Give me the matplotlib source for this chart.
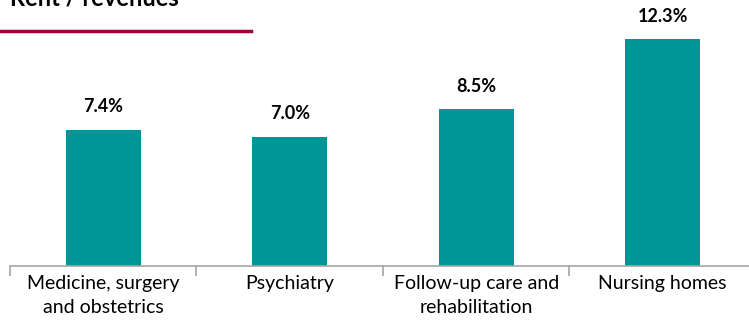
import matplotlib.pyplot as plt
import numpy as np

categories = ['Medicine, surgery\nand obstetrics', 'Psychiatry',
              'Follow-up care and\nrehabilitation', 'Nursing homes']
rent_share = [7.4, 7.0, 8.5, 12.3]
value_labels = ['7.4%', '7.0%', '8.5%', '12.3%']

plt.rcParams['font.family'] = ['Lato', 'DejaVu Sans']

fig = plt.figure(figsize=(7.49, 3.30), dpi=100)
ax = fig.add_axes([10 / 749, 64 / 330, 746 / 749, 249 / 330])

x = np.arange(len(categories))
ax.bar(x, rent_share, width=0.4, color='#009597')
for xi, v, lab in zip(x, rent_share, value_labels):
    ax.text(xi, v + 1.25, lab, ha='center', va='center', fontsize=13,
            fontweight='bold', clip_on=False)

ax.set_xlim(-0.5, len(categories) - 0.5)
ax.set_ylim(0, 13.5)
ax.set_yticks([])
for s in ['top', 'right', 'left']:
    ax.spines[s].set_visible(False)
ax.spines['bottom'].set_color('#a6a6a6')
ax.spines['bottom'].set_linewidth(1.2)

# boundary ticks between categories, labels centred under bars
ax.set_xticks(np.arange(len(categories) + 1) - 0.5)
ax.set_xticklabels([])
ax.tick_params(axis='x', length=7, width=1.2, color='#a6a6a6')
for xi, lab in zip(x, categories):
    ax.text(xi, -0.5, lab, ha='center', va='top', fontsize=14,
            linespacing=1.45, clip_on=False)

fig.text(10 / 749, 1 - 5 / 330, 'Rent / revenues', fontsize=17,
         fontweight='bold', va='baseline', ha='left')
fig.add_artist(plt.Line2D([0, 251 / 749], [1 - 31 / 330, 1 - 31 / 330],
                          color='#a50034', linewidth=2.5))

fig.savefig('out.png', dpi=100)
